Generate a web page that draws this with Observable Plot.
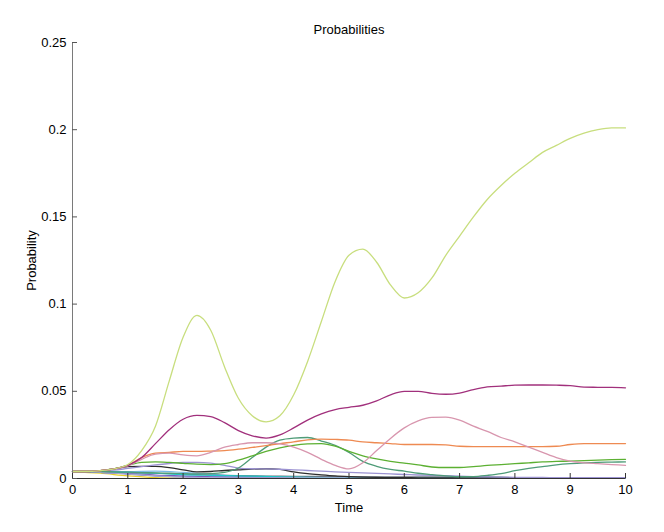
<!DOCTYPE html>
<html>
<head>
<meta charset="utf-8">
<script src="https://cdn.jsdelivr.net/npm/d3@7"></script>
<script src="https://cdn.jsdelivr.net/npm/@observablehq/plot@0.6"></script>
<style>
  html, body { margin: 0; padding: 0; background: #fff; }
  #chart svg { display: block; }
</style>
</head>
<body>
<div id="chart"></div>
<script>
// ---- data ----
const chartTitle = "Probabilities";
const xLabel = "Time";
const yLabel = "Probability";
const xTicks = [0, 1, 2, 3, 4, 5, 6, 7, 8, 9, 10];
const yTicks = [0, 0.05, 0.1, 0.15, 0.2, 0.25];
const yTickLabels = ["0", "0.05", "0.1", "0.15", "0.2", "0.25"];

const times = [0,0.25,0.5,0.75,1,1.25,1.5,1.75,2,2.25,2.5,2.75,3,3.25,3.5,3.75,4,4.25,4.5,4.75,5,5.25,5.5,5.75,6,6.25,6.5,6.75,7,7.25,7.5,7.75,8,8.25,8.5,8.75,9,9.25,9.5,9.75,10];
const timesCoarse = [0,0.5,1,1.5,2,2.5,3,3.5,4,4.5,5,5.5,6,6.5,7,7.5,8,8.5,9,9.5,10];

const yellowGreen = [0.004,0.004,0.0045,0.0055,0.008,0.016,0.030,0.056,0.081,0.0935,0.085,0.064,0.046,0.036,0.0325,0.036,0.048,0.067,0.090,0.113,0.128,0.1315,0.124,0.111,0.1035,0.1065,0.115,0.128,0.139,0.150,0.160,0.168,0.175,0.181,0.187,0.191,0.195,0.198,0.200,0.201,0.201];
const magenta = [0.004,0.004,0.0045,0.0055,0.0075,0.012,0.020,0.028,0.034,0.0362,0.0355,0.032,0.0275,0.0245,0.0232,0.025,0.029,0.0335,0.037,0.0395,0.0408,0.042,0.0445,0.048,0.050,0.050,0.0488,0.0483,0.049,0.051,0.0525,0.053,0.0535,0.0536,0.0536,0.0535,0.0533,0.0524,0.0523,0.0522,0.052];
const pink = [0.004,0.004,0.0045,0.0055,0.0072,0.011,0.014,0.0145,0.0135,0.013,0.015,0.018,0.0195,0.0205,0.0205,0.0198,0.018,0.015,0.011,0.0075,0.0055,0.009,0.016,0.023,0.029,0.033,0.035,0.0352,0.0335,0.030,0.027,0.0235,0.021,0.018,0.015,0.012,0.010,0.009,0.0085,0.008,0.0075];
const orange = [0.004,0.004,0.0045,0.0055,0.0075,0.012,0.0145,0.015,0.0155,0.0155,0.0157,0.016,0.0168,0.0178,0.0188,0.020,0.021,0.0222,0.0226,0.0224,0.022,0.021,0.0205,0.020,0.0195,0.0195,0.0195,0.0193,0.0185,0.0183,0.0183,0.0183,0.0183,0.0183,0.0183,0.0185,0.0195,0.020,0.020,0.020,0.020];
const green = [0.004,0.004,0.0045,0.0055,0.0075,0.0092,0.0095,0.0092,0.0087,0.0082,0.0080,0.0085,0.0105,0.013,0.0155,0.0175,0.019,0.0198,0.020,0.0185,0.0155,0.013,0.0112,0.0098,0.0088,0.0078,0.0066,0.0063,0.0063,0.0068,0.0075,0.008,0.0085,0.009,0.0095,0.0098,0.010,0.0103,0.0105,0.0108,0.011];
const seaGreen = [0.004,0.004,0.004,0.0038,0.0036,0.0034,0.0032,0.003,0.0028,0.0027,0.0028,0.0035,0.006,0.012,0.018,0.022,0.0232,0.0235,0.0215,0.019,0.015,0.0098,0.007,0.0052,0.0042,0.003,0.0022,0.0015,0.001,0.0011,0.0018,0.0028,0.0045,0.0058,0.0068,0.0078,0.0085,0.009,0.0093,0.0094,0.0095];
const lavender = [0.004,0.004,0.0042,0.0048,0.0058,0.0068,0.0078,0.0086,0.0092,0.0093,0.0088,0.0075,0.006,0.0056,0.0055,0.0053,0.005,0.0046,0.0042,0.0038,0.0035,0.0032,0.0029,0.0026,0.0023,0.002,0.0018,0.0016,0.0013,0.0011,0.0009,0.0008,0.0007,0.0006,0.0006,0.0005,0.0005,0.0005,0.0005,0.0005,0.0005];
const black = [0.004,0.004,0.0045,0.0055,0.0068,0.007,0.0069,0.0062,0.005,0.0038,0.004,0.0046,0.005,0.0054,0.0056,0.0052,0.0038,0.0028,0.0021,0.0015,0.0011,0.0008,0.0006,0.0005,0.0005,0.0004,0.0004,0.0004,0.0004,0.0004,0.0004,0.0004,0.0004,0.0004,0.0004,0.0004,0.0004,0.0004,0.0004,0.0004,0.0004];

const cyan = [0.004,0.004,0.0035,0.003,0.0022,0.0018,0.0015,0.0012,0.0008,0.0005,0.0004,0.0004,0.0004,0.0004,0.0004,0.0004,0.0003,0.0003,0.0003,0.0003,0.0003];
const yellow = [0.004,0.003,0.0015,0.0005,0.0002,0.0001,0.0001,0.0001,0.0001,0.0001,0.0001,0.0001,0.0001,0.0001,0.0001,0.0001,0.0001,0.0001,0.0001,0.0001,0.0001];
const blue = [0.004,0.0035,0.0025,0.0015,0.001,0.0008,0.0007,0.0006,0.0005,0.0004,0.0003,0.0003,0.0003,0.0003,0.0003,0.0003,0.0002,0.0002,0.0002,0.0002,0.0002];
const lightBlue = [0.004,0.004,0.004,0.0042,0.0035,0.0025,0.0015,0.001,0.0008,0.0006,0.0005,0.0004,0.0004,0.0003,0.0003,0.0003,0.0003,0.0003,0.0003,0.0003,0.0003];
const slate = [0.004,0.0038,0.0035,0.003,0.0025,0.002,0.0016,0.0014,0.0013,0.0012,0.0011,0.001,0.001,0.001,0.001,0.001,0.0005,0.0005,0.0005,0.0005,0.0005];
const paleViolet = [0.004,0.0035,0.0025,0.0015,0.0008,0.0005,0.0004,0.0004,0.0004,0.0004,0.0003,0.0003,0.0003,0.0003,0.0003,0.0003,0.0003,0.0003,0.0003,0.0003,0.0003];
const violet = [0.004,0.0035,0.003,0.002,0.0015,0.001,0.0008,0.0006,0.0005,0.0004,0.0003,0.0003,0.0002,0.0002,0.0002,0.0002,0.0002,0.0002,0.0002,0.0002,0.0002];

const seriesFine = [
  {name: "black", values: black, color: "#2e2e2e"},
  {name: "lavender", values: lavender, color: "#9c93d2"},
  {name: "seaGreen", values: seaGreen, color: "#4f9c78"},
  {name: "green", values: green, color: "#5cb032"},
  {name: "orange", values: orange, color: "#ee8a52"},
  {name: "pink", values: pink, color: "#d896ae"},
  {name: "magenta", values: magenta, color: "#a1307c"},
  {name: "yellowGreen", values: yellowGreen, color: "#c8de7e"}
];
const seriesCoarse = [
  {name: "yellow", values: yellow, color: "#e8d02c"},
  {name: "lightBlue", values: lightBlue, color: "#78b8e4"},
  {name: "blue", values: blue, color: "#4a5cd0"},
  {name: "violet", values: violet, color: "#7a5cc0"},
  {name: "slate", values: slate, color: "#6c7480"},
  {name: "cyan", values: cyan, color: "#1fc8c8"},
  {name: "paleViolet", values: paleViolet, color: "#a8a8d0"}
];

// ---- build tables ----
function toRows(ts, s) { return ts.map((t, i) => ({t, p: s.values[i], s: s.name})); }

const W = 664, H = 532;
const mL = 72, mR = 39, mT = 42, mB = 54;
const innerW = W - mL - mR, innerH = H - mT - mB;
const font = "'Liberation Sans', Arial, Helvetica, sans-serif";

const lineMarks = [
  ...seriesCoarse.map(s => Plot.line(toRows(timesCoarse, s), {x: "t", y: "p", stroke: s.color, strokeWidth: 1.2, curve: "monotone-x"})),
  ...seriesFine.map(s => Plot.line(toRows(times, s), {x: "t", y: "p", stroke: s.color, strokeWidth: 1.3, curve: "monotone-x"}))
];

const chart = Plot.plot({
  width: W, height: H,
  marginLeft: mL, marginRight: mR, marginTop: mT, marginBottom: mB,
  style: {fontFamily: font, fontSize: "13px", color: "#000", background: "#fff", overflow: "visible"},
  x: {domain: [0, 10]},
  y: {domain: [0, 0.25]},
  marks: [
    ...lineMarks,
    Plot.ruleY([0], {stroke: "#333", strokeWidth: 1}),
    Plot.ruleX([0], {stroke: "#7a7a7a", strokeWidth: 1}),
    Plot.tickX(xTicks, {x: d => d, insetTop: innerH - 5, stroke: "#333"}),
    Plot.tickY(yTicks, {y: d => d, insetRight: innerW - 5, stroke: "#555"}),
    Plot.axisX({ticks: xTicks, tickSize: 0, tickPadding: 6, tickFormat: d => String(d), label: null, fontSize: 13}),
    Plot.axisY({ticks: yTicks, tickSize: 0, tickPadding: 6, tickFormat: (d, i) => yTickLabels[i], label: null, fontSize: 13}),
    Plot.text([chartTitle], {frameAnchor: "top", lineAnchor: "middle", dy: -13, fontSize: 13, fill: "#000"}),
    Plot.text([xLabel], {frameAnchor: "bottom", lineAnchor: "middle", dy: 29, fontSize: 13, fill: "#000"}),
    Plot.text([yLabel], {frameAnchor: "left", textAnchor: "middle", lineAnchor: "middle", dx: -41, rotate: -90, fontSize: 13, fill: "#000"})
  ]
});
document.getElementById("chart").appendChild(chart);
</script>
</body>
</html>
